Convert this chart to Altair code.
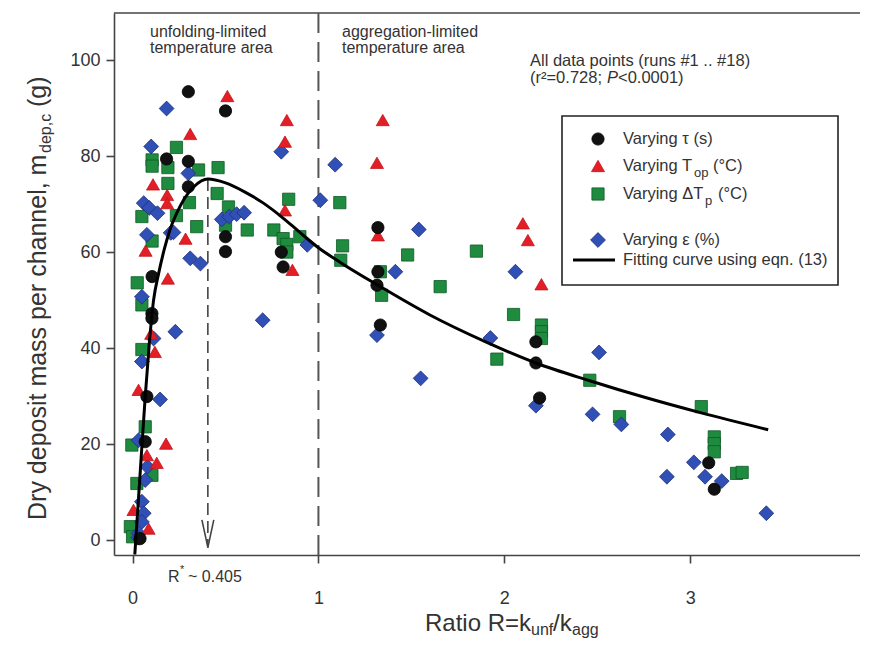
import altair as alt
import pandas as pd

# ---------------- data ----------------
tau_R = [0.30, 0.50, 0.183, 0.30, 0.30, 0.50, 0.50, 0.80, 0.81, 0.105,
         0.104, 0.104, 0.077, 0.068, 0.04, 1.32, 1.32, 1.315, 1.333, 2.17,
         2.17, 2.19, 3.10, 3.13]
tau_m = [93.4, 89.4, 79.4, 78.9, 73.6, 63.2, 60.1, 60.0, 56.9, 54.9,
         47.2, 46.2, 29.9, 20.5, 0.3, 65.1, 55.9, 53.1, 44.8, 41.3,
         36.9, 29.6, 16.1, 10.6]

top_R = [0.31, 0.51, 0.83, 0.82, 0.11, 0.186, 0.186, 0.285, 0.07, 0.19,
         0.82, 0.86, 1.346, 1.315, 1.32, 2.10, 2.127, 2.20, 0.10, 0.12,
         0.032, 0.18, 0.077, 0.13, 0.005, 0.086]
top_m = [84.6, 92.5, 87.5, 83.0, 74.1, 71.9, 70.2, 62.8, 60.3, 54.5,
         68.7, 56.3, 87.5, 78.6, 63.5, 66.0, 62.5, 53.3, 43.0, 39.2,
         31.3, 20.1, 17.7, 16.1, 6.3, 2.4]

dtp_R = [0.236, 0.105, 0.105, 0.19, 0.355, 0.46, 0.19, 0.455, 0.306, 0.516,
         0.05, 0.236, 0.345, 0.50, 0.617, 0.76, 0.84, 0.81, 0.83, 0.83,
         0.90, 0.105, 0.025, 0.05, 0.05, 0.068, -0.004, 0.104, 0.023, -0.012,
         0.0, 1.115, 1.13, 1.12, 1.48, 1.85, 1.333, 1.34, 1.655, 2.05,
         2.20, 2.20, 2.20, 1.96, 2.46, 2.62, 3.06, 3.13, 3.13, 3.13,
         3.25, 3.28]
dtp_m = [81.8, 79.2, 77.9, 77.6, 77.1, 77.6, 74.3, 72.2, 70.3, 69.4,
         67.4, 67.6, 65.3, 65.6, 64.6, 64.6, 71.0, 62.8, 61.6, 60.0,
         63.2, 62.3, 53.6, 49.0, 39.7, 23.6, 19.8, 13.5, 11.8, 2.8,
         0.7, 70.3, 61.3, 58.3, 59.4, 60.2, 55.9, 51.0, 52.8, 47.0,
         44.8, 43.4, 42.0, 37.7, 33.3, 25.7, 27.8, 21.5, 20.1, 18.4,
         13.9, 14.1]

eps_R = [0.183, 0.10, 0.80, 0.30, 0.06, 0.09, 0.134, 0.077, 0.205, 0.22,
         0.31, 0.365, 0.05, 0.48, 0.52, 0.56, 0.60, 0.94, 1.01, 1.09,
         1.414, 1.54, 1.315, 1.55, 1.925, 2.06, 2.17, 2.51, 2.475, 2.63,
         2.88, 2.875, 3.02, 3.08, 3.17, 3.41, 0.70, 0.23, 0.113, 0.05,
         0.148, 0.032, 0.08, 0.068, 0.05, 0.06, 0.05, 0.032, 0.03]
eps_m = [89.9, 82.0, 80.9, 76.4, 70.2, 69.2, 68.1, 63.6, 64.0, 64.1,
         58.7, 57.6, 50.7, 66.8, 67.4, 67.9, 68.2, 61.5, 70.8, 78.2,
         55.9, 64.7, 42.7, 33.7, 42.1, 55.9, 28.0, 39.1, 26.2, 24.1,
         22.0, 13.2, 16.2, 13.2, 12.3, 5.6, 45.8, 43.4, 42.0, 37.2,
         29.3, 20.8, 15.3, 12.5, 8.0, 5.6, 3.8, 1.4, 0.5]

curve_R = [0.012, 0.04, 0.068, 0.09, 0.113, 0.14, 0.17, 0.20, 0.24, 0.28,
           0.33, 0.405, 0.50, 0.60, 0.70, 0.80, 0.90, 1.00, 1.12, 1.32,
           1.60, 1.90, 2.17, 2.46, 2.75, 3.06, 3.42]
curve_m = [-3.0, 13.5, 29.9, 41.0, 50.0, 55.5, 60.5, 64.5, 68.3, 71.2,
           73.6, 75.2, 74.4, 72.6, 70.3, 67.4, 64.1, 60.9, 57.8, 53.1,
           46.9, 41.3, 36.9, 33.2, 29.8, 26.5, 23.0]

R_star = 0.405
R_boundary = 1.0
x_ticks = [0, 1, 2, 3, 4]
y_ticks = [0, 20, 40, 60, 80, 100]

# ---------------- layout ----------------
W, H = 746, 542
FONT = "Liberation Sans, Arial, Helvetica, sans-serif"
TXT = "#333333"

xs = alt.Scale(domain=[-0.1, 3.914], nice=False, zero=False)
ys = alt.Scale(domain=[-3.1, 109.8], nice=False, zero=False)
xa = alt.Axis(values=x_ticks, grid=False, labelPadding=26, tickSize=8,
              labelFontSize=18, labelFont=FONT, labelColor=TXT,
              domainColor="#444", tickColor="#444", domainWidth=1.6, tickWidth=1.6)
ya = alt.Axis(values=y_ticks, grid=False, labelPadding=6, tickSize=8,
              labelFontSize=18, labelFont=FONT, labelColor=TXT,
              domainColor="#444", tickColor="#444", domainWidth=1.6, tickWidth=1.6)


def X(f):
    return alt.X(f, type="quantitative", scale=xs, axis=xa, title="")


def Y(f):
    return alt.Y(f, type="quantitative", scale=ys, axis=ya, title="")


one = pd.DataFrame({"k": [0]})


def pts(R, m, shape, fill, stroke, size):
    df = pd.DataFrame({"R": R, "m": m})
    return alt.Chart(df).mark_point(shape=shape, filled=True, fill=fill, stroke=stroke,
                                    strokeWidth=0.8, size=size, opacity=1).encode(
        x=X("R"), y=Y("m"))


def txt(s, px, py, size=16.5, angle=0, italic=False, color=TXT, align="left"):
    kw = dict(text=s, fontSize=size, font=FONT, color=color, align=align, baseline="middle")
    if angle:
        kw["angle"] = angle
    if italic:
        kw["fontStyle"] = "italic"
    return alt.Chart(one).mark_text(**kw).encode(x=alt.value(px), y=alt.value(py))


def sym(shape, fill, stroke, size, px, py):
    return alt.Chart(one).mark_point(shape=shape, filled=True, fill=fill, stroke=stroke,
                                     strokeWidth=0.8, size=size, opacity=1).encode(
        x=alt.value(px), y=alt.value(py))


BLACK = ("#111111", "#000000")
RED = ("#e41e26", "#c0151b")
GREEN = ("#1f8b3f", "#0f5a26")
BLUE = ("#3150b6", "#1c2f7c")

# frame top line
top_line = alt.Chart(one).mark_rule(color="#444", strokeWidth=1.6).encode(
    x=alt.value(0), x2=alt.value(W), y=alt.value(0))

# boundary line at R = 1
bound = alt.Chart(pd.DataFrame({"R": [R_boundary]})).mark_rule(
    color="#555", strokeWidth=2, strokeDash=[20, 9]).encode(
    x=X("R"), y=alt.value(0), y2=alt.value(H))

# R* line
rstar = alt.Chart(pd.DataFrame({"R": [R_star], "m": [75.2], "m2": [-1.6]})).mark_rule(
    color="#444", strokeWidth=1.6, strokeDash=[12, 6]).encode(
    x=X("R"), y=Y("m"), y2="m2")

arrow = alt.Chart(pd.DataFrame({"R": [R_star - 0.032, R_star + 0.032],
                                "m": [4.2, 4.2],
                                "R2": [R_star, R_star],
                                "m2": [-1.5, -1.5]})).mark_rule(
    color="#444", strokeWidth=1.6).encode(x=X("R"), y=Y("m"), x2="R2", y2="m2")

curve = alt.Chart(pd.DataFrame({"R": curve_R, "m": curve_m})).mark_line(
    color="#000", strokeWidth=3, interpolate="monotone", clip=True).encode(
    x=X("R"), y=Y("m"))

layers = [
    top_line, bound, rstar, arrow,
    pts(dtp_R, dtp_m, "square", *GREEN, 150),
    pts(eps_R, eps_m, "diamond", *BLUE, 220),
    pts(top_R, top_m, "triangle-up", *RED, 170),
    pts(tau_R, tau_m, "circle", *BLACK, 150),
    curve,
]

# annotations
layers += [
    txt("unfolding-limited", 36, 19, 16),
    txt("temperature area", 36, 35, 16),
    txt("aggregation-limited", 228, 19, 16),
    txt("temperature area", 228, 35, 16),
    txt("All data points (runs #1 .. #18)", 416, 48, 16.5),
    txt("(r\u00b2=0.728; ", 416, 65, 16.5),
    txt("P", 493, 65, 16.5, italic=True),
    txt("<0.0001)", 504, 65, 16.5),
    txt("R", 54, 564, 16),
    txt("*", 66, 557, 11),
    txt("~ 0.405", 74, 564, 16),
]

# axis titles (with subscripts)
layers += [
    txt("Ratio R=k", 311, 611, 24),
    txt("unf", 417, 617, 16),
    txt("/k", 439, 611, 24),
    txt("agg", 458, 617, 16),
    txt("Dry deposit mass per channel, m", -76, 507, 25, angle=270),
    txt("dep,c", -68, 140, 16, angle=270),
    txt("(g)", -76, 94, 25, angle=270),
]

# legend
LX = 509
layers += [
    alt.Chart(one).mark_rect(fill="white", stroke="#222", strokeWidth=1.6).encode(
        x=alt.value(448), x2=alt.value(724), y=alt.value(103), y2=alt.value(272)),
    sym("circle", *BLACK, 150, 484, 126),
    sym("triangle-up", *RED, 170, 484, 153),
    sym("square", *GREEN, 150, 484, 181),
    sym("diamond", *BLUE, 220, 484, 227),
    alt.Chart(one).mark_rule(color="#000", strokeWidth=3).encode(
        x=alt.value(459), x2=alt.value(501), y=alt.value(247)),
    txt("Varying \u03c4 (s)", LX, 126),
    txt("Varying T", LX, 153),
    txt("op", LX + 71, 160, 13),
    txt("(\u00b0C)", LX + 90, 153),
    txt("Varying \u0394T", LX, 181),
    txt("p", LX + 82, 188, 13),
    txt("(\u00b0C)", LX + 95, 181),
    txt("Varying \u03b5 (%)", LX, 227),
    txt("Fitting curve using eqn. (13)", LX, 247),
]

chart = alt.layer(*layers).properties(
    width=W, height=H,
    padding={"left": 106, "top": 5, "right": 0, "bottom": 85},
    autosize=alt.AutoSizeParams(type="none"),
).configure_view(stroke="transparent")

chart.save("out.html", embed_options={"renderer": "svg", "actions": False})
